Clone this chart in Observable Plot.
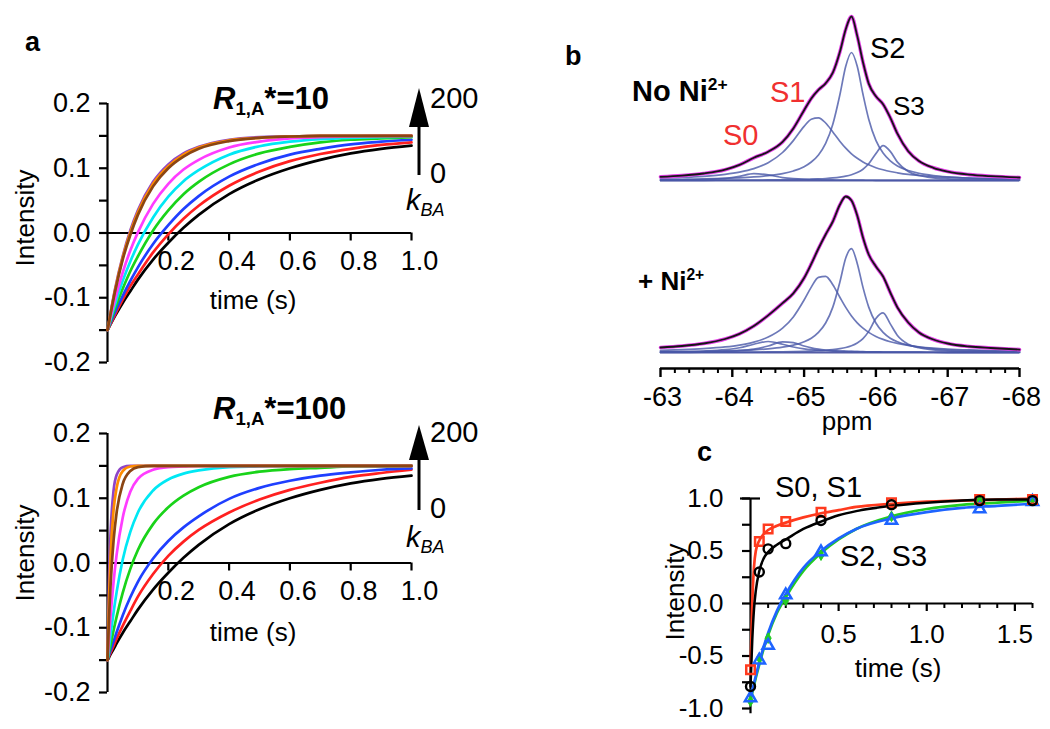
<!DOCTYPE html>
<html><head><meta charset="utf-8">
<script src="https://cdn.jsdelivr.net/npm/d3@7"></script>
<script src="https://cdn.jsdelivr.net/npm/@observablehq/plot@0.6"></script>
<style>
body{margin:0;background:#fff;}
#fig{position:relative;width:1050px;height:729px;overflow:hidden;font-family:"Liberation Sans",Arial,Helvetica,sans-serif;background:#fff;}
.lbl{position:absolute;white-space:nowrap;line-height:1;}
.lbl sub,.lbl sup{font-size:0.6em;line-height:0;position:relative;vertical-align:baseline;}
.lbl sub{top:0.35em;}
.lbl sup{top:-0.62em;}
</style></head>
<body><div id="fig"></div>
<script>
// ================= DATA =================
// Panel a: simulated recovery curves, colour order = k_BA from 0 (black) to 200 (brown)
const seriesColors = ["#000000", "#ff2020", "#1f3fff", "#19d319", "#00e8f4", "#ff3cff", "#8e44c8", "#ff8c00", "#8b4513"];
const timeTop = [0, 0.025, 0.05, 0.075, 0.1, 0.15, 0.2, 0.25, 0.3, 0.4, 0.5, 0.6, 0.7, 0.8, 0.9, 1.0];
const intensityTop = [
  [-0.150, -0.128, -0.108, -0.090, -0.072, -0.041, -0.015, 0.008, 0.028, 0.060, 0.083, 0.100, 0.113, 0.123, 0.130, 0.135],
  [-0.150, -0.126, -0.103, -0.082, -0.064, -0.030, -0.002, 0.022, 0.042, 0.073, 0.095, 0.111, 0.122, 0.130, 0.136, 0.140],
  [-0.150, -0.122, -0.097, -0.074, -0.053, -0.017, 0.012, 0.037, 0.057, 0.087, 0.107, 0.121, 0.130, 0.137, 0.141, 0.144],
  [-0.150, -0.116, -0.086, -0.059, -0.036, 0.004, 0.035, 0.060, 0.079, 0.106, 0.123, 0.133, 0.140, 0.144, 0.146, 0.148],
  [-0.150, -0.110, -0.074, -0.044, -0.018, 0.024, 0.056, 0.080, 0.097, 0.121, 0.134, 0.141, 0.145, 0.147, 0.148, 0.149],
  [-0.150, -0.102, -0.061, -0.027, 0.001, 0.045, 0.076, 0.098, 0.113, 0.132, 0.141, 0.146, 0.148, 0.149, 0.150, 0.150],
  [-0.150, -0.086, -0.036, 0.004, 0.035, 0.079, 0.106, 0.123, 0.133, 0.144, 0.148, 0.149, 0.150, 0.150, 0.150, 0.150],
  [-0.150, -0.088, -0.038, 0.001, 0.032, 0.076, 0.103, 0.121, 0.132, 0.143, 0.147, 0.149, 0.150, 0.150, 0.150, 0.150],
  [-0.150, -0.090, -0.041, -0.003, 0.028, 0.072, 0.100, 0.118, 0.130, 0.142, 0.147, 0.149, 0.150, 0.150, 0.150, 0.150]
];
const timeBottom = [0, 0.005, 0.01, 0.02, 0.03, 0.05, 0.075, 0.1, 0.15, 0.2, 0.25, 0.3, 0.4, 0.5, 0.6, 0.7, 0.8, 0.9, 1.0];
const intensityBottom = [
  [-0.150, -0.146, -0.141, -0.133, -0.124, -0.108, -0.090, -0.072, -0.041, -0.015, 0.008, 0.028, 0.060, 0.083, 0.100, 0.113, 0.123, 0.130, 0.135],
  [-0.150, -0.144, -0.139, -0.128, -0.117, -0.097, -0.074, -0.052, -0.017, 0.011, 0.033, 0.051, 0.078, 0.098, 0.113, 0.124, 0.133, 0.139, 0.144],
  [-0.150, -0.142, -0.135, -0.121, -0.107, -0.081, -0.053, -0.029, 0.007, 0.034, 0.055, 0.072, 0.099, 0.116, 0.127, 0.135, 0.140, 0.144, 0.146],
  [-0.150, -0.138, -0.127, -0.104, -0.083, -0.046, -0.009, 0.020, 0.060, 0.086, 0.104, 0.117, 0.133, 0.141, 0.145, 0.147, 0.149, 0.149, 0.150],
  [-0.150, -0.130, -0.111, -0.076, -0.045, 0.005, 0.048, 0.078, 0.112, 0.129, 0.138, 0.143, 0.148, 0.149, 0.150, 0.150, 0.150, 0.150, 0.150],
  [-0.150, -0.115, -0.083, -0.029, 0.013, 0.070, 0.110, 0.130, 0.144, 0.148, 0.149, 0.150, 0.150, 0.150, 0.150, 0.150, 0.150, 0.150, 0.150],
  [-0.150, -0.025, 0.045, 0.112, 0.136, 0.148, 0.150, 0.150, 0.150, 0.150, 0.150, 0.150, 0.150, 0.150, 0.150, 0.150, 0.150, 0.150, 0.150],
  [-0.150, -0.055, 0.010, 0.082, 0.116, 0.142, 0.149, 0.150, 0.150, 0.150, 0.150, 0.150, 0.150, 0.150, 0.150, 0.150, 0.150, 0.150, 0.150],
  [-0.150, -0.085, -0.035, 0.035, 0.078, 0.122, 0.142, 0.148, 0.150, 0.150, 0.150, 0.150, 0.150, 0.150, 0.150, 0.150, 0.150, 0.150, 0.150]
];
const aYTicks = [-0.2, -0.15, -0.1, -0.05, 0, 0.05, 0.1, 0.15, 0.2];
const aYLabels = [-0.2, -0.1, 0.0, 0.1, 0.2];
const aXTicks = [0.2, 0.4, 0.6, 0.8, 1.0];

// Panel b: 19F spectra (ppm) with deconvoluted components
const ppm = [-63.0, -63.3, -63.6, -63.9, -64.1, -64.3, -64.5, -64.7, -64.85, -65.0, -65.1, -65.2, -65.3, -65.4, -65.5, -65.58, -65.66, -65.74, -65.82, -65.9, -66.0, -66.1, -66.2, -66.3, -66.45, -66.6, -66.8, -67.0, -67.3, -67.6, -68.0];
const topS0 = [0.33, 0.53, 0.97, 2.15, 4.13, 6.81, 5.6, 2.96, 1.85, 1.23, 0.97, 0.78, 0.63, 0.53, 0.45, 0.39, 0.35, 0.31, 0.28, 0.25, 0.22, 0.2, 0.18, 0.16, 0.14, 0.12, 0.1, 0.09, 0.07, 0.06, 0.05];
const topS1 = [2.3, 3.0, 4.2, 6.2, 8.4, 11.9, 17.8, 28.0, 39.9, 54.1, 61.3, 62.7, 57.5, 48.5, 39.0, 32.3, 26.7, 22.2, 18.6, 15.7, 12.8, 10.7, 9.0, 7.7, 6.1, 5.0, 3.9, 3.2, 2.4, 1.8, 1.4];
const topS2 = [0.95, 1.2, 1.58, 2.15, 2.72, 3.56, 4.84, 6.95, 9.55, 13.8, 18.5, 25.6, 37.1, 56.2, 86.2, 114.2, 128, 114.2, 86.2, 61.3, 40.2, 27.5, 19.7, 14.6, 10.0, 7.2, 5.0, 3.7, 2.5, 1.8, 1.2];
const topS3 = [0.14, 0.18, 0.22, 0.29, 0.34, 0.42, 0.53, 0.69, 0.86, 1.1, 1.32, 1.62, 2.01, 2.57, 3.4, 4.36, 5.78, 7.92, 11.3, 16.7, 26.9, 34.9, 29.1, 18.4, 9.0, 5.0, 2.7, 1.7, 0.96, 0.62, 0.39];
const topTotal = [3.7, 4.9, 7.0, 10.8, 15.6, 22.7, 28.8, 38.6, 52.1, 70.3, 82.1, 90.7, 97.2, 107.8, 129.0, 151.2, 164.0, 144.6, 118.3, 96.9, 84.2, 76.3, 62.9, 46.8, 29.3, 19.4, 12.7, 8.9, 5.9, 4.3, 3.0];
const botS0a = [0.57, 0.86, 1.45, 2.79, 4.77, 8.29, 11.0, 8.29, 5.5, 3.62, 2.79, 2.2, 1.77, 1.45, 1.2, 1.05, 0.92, 0.81, 0.72, 0.65, 0.57, 0.5, 0.45, 0.4, 0.34, 0.3, 0.25, 0.21, 0.17, 0.14, 0.11];
const botS0b = [0.31, 0.45, 0.7, 1.22, 1.93, 3.38, 6.49, 10.7, 9.9, 6.49, 4.66, 3.38, 2.52, 1.93, 1.52, 1.27, 1.08, 0.93, 0.8, 0.7, 0.6, 0.52, 0.45, 0.4, 0.33, 0.28, 0.23, 0.19, 0.15, 0.12, 0.09];
const botS1 = [2.12, 2.79, 3.83, 5.56, 7.46, 10.4, 15.4, 24.3, 35.6, 52.5, 65.4, 75.1, 76.2, 67.8, 55.0, 45.1, 36.5, 29.7, 24.3, 20.1, 16.1, 13.1, 10.8, 9.08, 7.12, 5.73, 4.43, 3.51, 2.58, 1.98, 1.45];
const botS2 = [0.71, 0.9, 1.18, 1.62, 2.06, 2.69, 3.67, 5.29, 7.31, 10.7, 14.3, 20.1, 29.5, 45.4, 71.0, 94.5, 103.8, 89.1, 65.1, 45.4, 29.5, 20.1, 14.3, 10.7, 7.31, 5.29, 3.67, 2.69, 1.81, 1.31, 0.9];
const botS3 = [0.15, 0.19, 0.23, 0.3, 0.36, 0.45, 0.57, 0.74, 0.93, 1.2, 1.45, 1.78, 2.24, 2.9, 3.88, 5.04, 6.79, 9.52, 13.9, 21.1, 34.0, 39.6, 28.6, 17.1, 8.35, 4.71, 2.6, 1.64, 0.95, 0.62, 0.38];
const botTotal = [5.0, 6.5, 9.0, 13.5, 18.6, 26.5, 37.1, 49.3, 59.2, 74.5, 88.6, 104.0, 118.0, 131.0, 148.0, 156.0, 152.0, 137.0, 115.0, 98.0, 86.0, 76.0, 60.0, 45.0, 30.0, 20.0, 13.0, 9.0, 6.0, 4.5, 2.9];
const ppmMajor = [-63, -64, -65, -66, -67, -68];

// Panel c: measured recovery (points) and fits (lines)
const cTimes = [0, 0.05, 0.1, 0.2, 0.4, 0.8, 1.3, 1.6];
const cS0 = [-0.63, 0.59, 0.71, 0.78, 0.87, 0.96, 0.99, 0.99];
const cS1 = [-0.79, 0.30, 0.52, 0.57, 0.79, 0.94, 0.98, 0.98];
const cS2 = [-0.90, -0.54, -0.40, 0.08, 0.49, 0.79, 0.90, 0.97];
const cS3 = [-0.93, -0.52, -0.33, 0.03, 0.46, 0.83, 0.98, 0.99];
const cFitTimes = [0, 0.01, 0.02, 0.03, 0.05, 0.075, 0.1, 0.15, 0.2, 0.3, 0.4, 0.5, 0.6, 0.8, 1.0, 1.2, 1.4, 1.6];
const cFitS0 = [-0.63, 0.00, 0.35, 0.50, 0.60, 0.66, 0.70, 0.74, 0.77, 0.82, 0.86, 0.89, 0.92, 0.95, 0.97, 0.98, 0.99, 1.00];
const cFitS1 = [-0.79, -0.35, -0.05, 0.12, 0.31, 0.43, 0.49, 0.56, 0.61, 0.71, 0.78, 0.84, 0.88, 0.93, 0.96, 0.98, 0.99, 0.99];
const cFitS2 = [-0.90, -0.83, -0.76, -0.69, -0.56, -0.41, -0.28, -0.07, 0.09, 0.34, 0.50, 0.62, 0.71, 0.81, 0.87, 0.91, 0.93, 0.95];
const cFitS3 = [-0.93, -0.85, -0.78, -0.71, -0.58, -0.43, -0.30, -0.09, 0.06, 0.31, 0.48, 0.61, 0.71, 0.83, 0.90, 0.94, 0.96, 0.98];
const cYLabels = [-1.0, -0.5, 0.0, 0.5, 1.0];
const cYTicks = [-1, -0.75, -0.5, -0.25, 0, 0.25, 0.5, 0.75, 1];
const cXMajor = [0.5, 1.0, 1.5];
const cXMinor = [0.1, 0.2, 0.3, 0.4, 0.6, 0.7, 0.8, 0.9, 1.1, 1.2, 1.3, 1.4, 1.6];

// ================= HELPERS =================
const FONT = '"Liberation Sans", Arial, Helvetica, sans-serif';
const fig = document.getElementById("fig");
function put(node, left, top) {
  node.style.position = "absolute";
  node.style.left = left + "px";
  node.style.top = top + "px";
  fig.appendChild(node);
}
function label(html, x, y, o = {}) {
  const d = document.createElement("div");
  d.className = "lbl";
  d.innerHTML = html;
  const size = o.size || 25;
  d.style.fontSize = size + "px";
  d.style.fontWeight = o.bold ? "bold" : "normal";
  if (o.italic) d.style.fontStyle = "italic";
  d.style.color = o.color || "#000";
  d.style.left = x + "px";
  if (o.rotate) {
    d.style.top = y + "px";
    d.style.transform = `translate(-50%,-50%) rotate(${o.rotate}deg)`;
  } else {
    d.style.top = (y - size / 2) + "px";
    const tx = o.anchor === "middle" ? "-50%" : o.anchor === "end" ? "-100%" : "0";
    d.style.transform = `translateX(${tx})`;
  }
  fig.appendChild(d);
}
const baseStyle = {fontFamily: FONT, fontSize: "25px", background: "transparent", overflow: "visible", color: "#000"};
const rows = (xs, ys) => xs.map((x, i) => ({x, y: ys[i]}));

// ================= PANEL a =================
function kineticsPanel(times, series, top) {
  const xr = [107, 411], yr = [362, 103];
  const ux = 1 / (xr[1] - xr[0]);
  const uy = 0.4 / (yr[0] - yr[1]);
  const svg = Plot.plot({
    width: 440, height: 380,
    x: {domain: [0, 1], range: xr, axis: null},
    y: {domain: [-0.2, 0.2], range: yr, axis: null},
    style: baseStyle,
    marks: [
      Plot.ruleY([0], {x1: 0, x2: 1, stroke: "#000", strokeWidth: 2.2}),
      Plot.ruleX([0], {y1: -0.2, y2: 0.2, stroke: "#000", strokeWidth: 2.2}),
      Plot.ruleY(aYTicks, {y: d => d, x1: 0, x2: -8 * ux, stroke: "#000", strokeWidth: 2.2}),
      Plot.ruleX(aXTicks, {x: d => d, y1: 0, y2: -8 * uy, stroke: "#000", strokeWidth: 2.2}),
      Plot.text(aYLabels, {x: 0, y: d => d, text: d => d.toFixed(1), textAnchor: "end", dx: -17, fontSize: 27}),
      Plot.text(aXTicks, {x: d => d, y: 0, text: d => d.toFixed(1), dx: 8, dy: 28, fontSize: 27}),
      ...series.map((vals, i) => Plot.line(rows(times, vals), {x: "x", y: "y", stroke: seriesColors[i], strokeWidth: 2.7, curve: "monotone-x"}))
    ]
  });
  put(svg, 0, top);
}
kineticsPanel(timeTop, intensityTop, 0);
kineticsPanel(timeBottom, intensityBottom, 330);

// ================= PANEL b =================
const compColor = "#4858a8";
function spectrumPanel(comps, total, top, height, yRange, withAxis) {
  const xr = [40, 399];
  const marks = [
    Plot.ruleY([0], {x1: -63, x2: -68, stroke: "#2b3590", strokeWidth: 2, strokeOpacity: 0.8}),
    ...comps.map(c => Plot.line(rows(ppm, c), {x: "x", y: "y", stroke: compColor, strokeOpacity: 0.8, strokeWidth: 1.7, curve: "monotone-x"})),
    Plot.line(rows(ppm, total), {x: "x", y: "y", stroke: "#e440e8", strokeWidth: 3.6, curve: "monotone-x"}),
    Plot.line(rows(ppm, total), {x: "x", y: "y", stroke: "#161616", strokeWidth: 1.8, curve: "monotone-x"})
  ];
  if (withAxis) {
    const ax = -16;
    const minor = d3.range(-63, -68.01, -0.2).map(v => +v.toFixed(1)).filter(v => !Number.isInteger(v));
    marks.push(
      Plot.ruleY([ax], {x1: -63, x2: -68, stroke: "#000", strokeWidth: 2.4}),
      Plot.ruleX(ppmMajor, {x: d => d, y1: ax, y2: ax - 9, stroke: "#000", strokeWidth: 2.4}),
      Plot.ruleX(minor, {x: d => d, y1: ax, y2: ax - 5, stroke: "#000", strokeWidth: 2}),
      Plot.text(ppmMajor, {x: d => d, y: ax, text: d => String(d), dy: 29, dx: 2, fontSize: 27})
    );
  }
  const svg = Plot.plot({
    width: 420, height,
    x: {domain: [-63, -68], range: xr, axis: null},
    y: {domain: [0, 170], range: yRange, axis: null},
    style: baseStyle,
    marks
  });
  put(svg, 620, top);
}
spectrumPanel([topS0, topS1, topS2, topS3], topTotal, 0, 200, [180, 10], false);
spectrumPanel([botS0a, botS0b, botS1, botS2, botS3], botTotal, 185, 260, [167, -3], true);

// ================= PANEL c =================
(function () {
  const xr = [70, 352], yr = [268, 58];
  const ux = 1.6 / (xr[1] - xr[0]);
  const uy = 2 / (yr[0] - yr[1]);
  const red = "#ff3a1e", blue = "#1e64ff", green = "#22cc22";
  const svg = Plot.plot({
    width: 370, height: 289,
    x: {domain: [0, 1.6], range: xr, axis: null},
    y: {domain: [-1, 1], range: yr, axis: null},
    style: baseStyle,
    marks: [
      Plot.ruleX([0], {y1: -1.05, y2: 1.0, stroke: "#000", strokeWidth: 2.2}),
      Plot.ruleY([0], {x1: 0, x2: 1.6, stroke: "#000", strokeWidth: 2.2}),
      Plot.ruleY(cYTicks, {y: d => d, x1: 0, x2: -8 * ux, stroke: "#000", strokeWidth: 2.2}),
      Plot.ruleY([1], {x1: -10 * ux, x2: 10 * ux, stroke: "#000", strokeWidth: 2.2}),
      Plot.ruleX(cXMajor, {x: d => d, y1: 0, y2: -8 * uy, stroke: "#000", strokeWidth: 2.2}),
      Plot.ruleX(cXMinor, {x: d => d, y1: 0, y2: -5 * uy, stroke: "#000", strokeWidth: 2}),
      Plot.text(cYLabels, {x: 0, y: d => d, text: d => d.toFixed(1), textAnchor: "end", dx: -27, fontSize: 26}),
      Plot.text(cXMajor, {x: d => d, y: 0, text: d => d.toFixed(1), dy: 31, fontSize: 26}),
      Plot.line(rows(cFitTimes, cFitS3), {x: "x", y: "y", stroke: green, strokeWidth: 2.7, curve: "monotone-x"}),
      Plot.line(rows(cFitTimes, cFitS2), {x: "x", y: "y", stroke: blue, strokeWidth: 2.7, curve: "monotone-x"}),
      Plot.line(rows(cFitTimes, cFitS0), {x: "x", y: "y", stroke: red, strokeWidth: 2.7, curve: "monotone-x"}),
      Plot.line(rows(cFitTimes, cFitS1), {x: "x", y: "y", stroke: "#000", strokeWidth: 2.5, curve: "monotone-x"}),
      Plot.dot(rows(cTimes, cS3), {x: "x", y: "y", symbol: "diamond", r: 3.2, fill: green, stroke: green, strokeWidth: 1}),
      Plot.dot(rows(cTimes, cS2), {x: "x", y: "y", symbol: "triangle", r: 4.2, fill: "none", stroke: blue, strokeWidth: 2.5}),
      Plot.dot(rows(cTimes, cS0), {x: "x", y: "y", symbol: "square", r: 4.8, fill: "none", stroke: red, strokeWidth: 2.5}),
      Plot.dot(rows(cTimes, cS1), {x: "x", y: "y", symbol: "circle", r: 4.5, fill: "none", stroke: "#000", strokeWidth: 2.4})
    ]
  });
  put(svg, 680, 440);
})();

// ================= TEXT & DECORATIONS =================
// panel letters
label("a", 25, 42, {size: 27, bold: true});
label("b", 565, 56, {size: 27, bold: true});
label("c", 697, 452, {size: 27, bold: true});

// panel a texts
[[0, "10"], [330, "100"]].forEach(([dy, val]) => {
  label(`<i>R</i><sub>1,A</sub>*=${val}`, 213, 98 + dy - (dy ? 20 : 0), {size: 31, bold: true});
  label("200", 430, 98 + dy + (dy ? 4 : 0), {size: 29});
  label("0", 430, 173 + dy + (dy ? 5 : 0), {size: 29});
  label('<i>k</i><sub style="font-style:italic;font-size:0.62em">BA</sub>', 406, 200 + dy + (dy ? 7 : 0), {size: 29});
  label("Intensity", 25, 218 + dy + (dy ? 5 : 0), {size: 26, rotate: -90});
  label("time (s)", 253, 300 + dy + (dy ? 2 : 0), {size: 26, anchor: "middle"});
});
// arrows (decorative)
const ns = "http://www.w3.org/2000/svg";
const deco = document.createElementNS(ns, "svg");
deco.setAttribute("width", 1050); deco.setAttribute("height", 729);
deco.style.position = "absolute"; deco.style.left = "0px"; deco.style.top = "0px"; deco.style.pointerEvents = "none";
[[88, 127, 175], [425, 460, 510]].forEach(([t, hb, b]) => {
  const p = document.createElementNS(ns, "polygon");
  p.setAttribute("points", `409,${hb} 429,${hb} 419,${t}`);
  p.setAttribute("fill", "#000");
  deco.appendChild(p);
  const l = document.createElementNS(ns, "line");
  l.setAttribute("x1", 419); l.setAttribute("x2", 419);
  l.setAttribute("y1", hb - 1); l.setAttribute("y2", b);
  l.setAttribute("stroke", "#000"); l.setAttribute("stroke-width", 3);
  deco.appendChild(l);
});
fig.appendChild(deco);

// panel b texts
label("No Ni<sup>2+</sup>", 632, 91, {size: 29, bold: true});
label("S1", 770, 92, {size: 29, color: "#f03030"});
label("S0", 723, 135, {size: 29, color: "#f03030"});
label("S2", 870, 48, {size: 29});
label("S3", 893, 106, {size: 26});
label("+ Ni<sup>2+</sup>", 638, 281, {size: 26, bold: true});
label("ppm", 847, 421, {size: 26, anchor: "middle"});

// panel c texts
label("S0, S1", 775, 487, {size: 29});
label("S2, S3", 840, 556, {size: 29});
label("time (s)", 898, 668, {size: 26, anchor: "middle"});
label("Intensity", 675, 592, {size: 26, rotate: -90});
</script>
</body></html>
